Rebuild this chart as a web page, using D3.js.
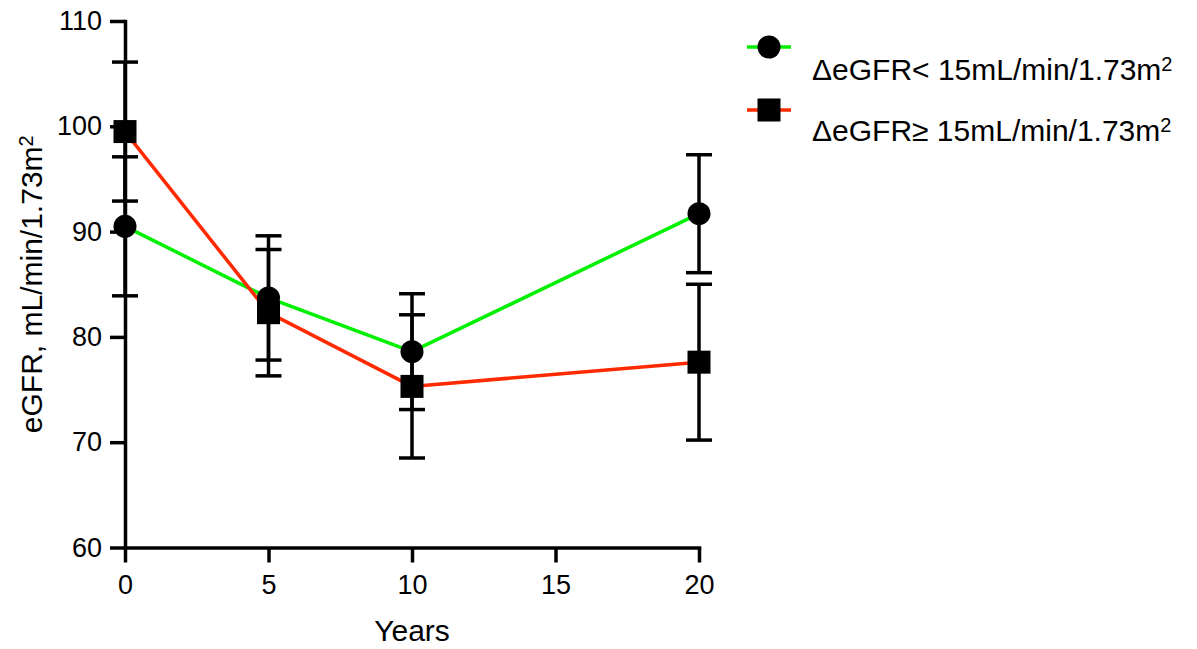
<!DOCTYPE html>
<html>
<head>
<meta charset="utf-8">
<script src="https://cdn.jsdelivr.net/npm/d3@7"></script>
<style>
  html, body { margin: 0; padding: 0; background: #fff; }
  svg { display: block; font-family: "Liberation Sans", Arial, sans-serif; }
</style>
</head>
<body>
<div id="chart"></div>
<script>
const width = 1197;
const height = 649;

// Data (mean and SD of eGFR)
const years = [0, 5, 10, 20];
const lowMean = [90.5, 83.7, 78.6, 91.7];
const lowSd = [6.6, 5.9, 5.5, 5.6];
const highMean = [99.5, 82.3, 75.3, 77.6];
const highSd = [6.6, 6.0, 6.8, 7.4];
const xTicks = [0, 5, 10, 15, 20];
const yTicks = [60, 70, 80, 90, 100, 110];
const legendLabels = ["\u0394eGFR< 15mL/min/1.73m", "\u0394eGFR\u2265 15mL/min/1.73m"];

const series = [
    { name: legendLabels[0], mean: lowMean, sd: lowSd, color: "#00f000", shape: "circle" },
    { name: legendLabels[1], mean: highMean, sd: highSd, color: "#ff2a00", shape: "square" }
];

const x = d3.scaleLinear().domain([0, 20]).range([125, 699]);
const y = d3.scaleLinear().domain([60, 110]).range([547.5, 21]);

const svg = d3.select("#chart").append("svg")
    .attr("width", width)
    .attr("height", height);

// axes
const yAxis = d3.axisLeft(y).tickValues(yTicks).tickSize(15).tickSizeOuter(0).tickPadding(8);
const xAxis = d3.axisBottom(x).tickValues(xTicks).tickSize(15).tickSizeOuter(0).tickPadding(12);

const gy = svg.append("g").attr("transform", `translate(${x(0)},0)`).call(yAxis);
const gx = svg.append("g").attr("transform", `translate(0,${y(60)})`).call(xAxis);

[gx, gy].forEach(g => {
    g.select(".domain").attr("stroke", "#000").attr("stroke-width", 3.5).attr("stroke-linecap", "square");
    g.selectAll(".tick line").attr("stroke", "#000").attr("stroke-width", 3.5);
    g.selectAll(".tick text").attr("fill", "#000").style("font-size", "27px")
        .style("font-family", "'Liberation Sans', Arial, sans-serif");
});

// axis titles
svg.append("text")
    .attr("x", x(10))
    .attr("y", 641)
    .attr("text-anchor", "middle")
    .style("font-size", "30px")
    .text("Years");

const yTitle = svg.append("text")
    .attr("transform", `translate(42,${(y(60) + y(110)) / 2}) rotate(-90)`)
    .attr("text-anchor", "middle")
    .style("font-size", "30px");
yTitle.append("tspan").text("eGFR, mL/min/1.73m");
yTitle.append("tspan").attr("dy", "-0.45em").style("font-size", "20px").text("2");

// connecting lines
const line = d3.line()
    .x((d, i) => x(years[i]))
    .y(d => y(d));

series.forEach(s => {
    svg.append("path")
        .datum(s.mean)
        .attr("fill", "none")
        .attr("stroke", s.color)
        .attr("stroke-width", 3.5)
        .attr("d", line);
});

// error bars
const capW = 13;
series.forEach(s => {
    const g = svg.append("g").attr("stroke", "#000").attr("stroke-width", 3.5);
    years.forEach((yr, i) => {
        const cx = x(yr);
        const top = y(s.mean[i] + s.sd[i]);
        const bot = y(s.mean[i] - s.sd[i]);
        g.append("line").attr("x1", cx).attr("x2", cx).attr("y1", top).attr("y2", bot);
        g.append("line").attr("x1", cx - capW).attr("x2", cx + capW).attr("y1", top).attr("y2", top);
        g.append("line").attr("x1", cx - capW).attr("x2", cx + capW).attr("y1", bot).attr("y2", bot);
    });
});

// markers
function drawMarker(g, shape, cx, cy) {
    if (shape === "circle") {
        g.append("circle").attr("cx", cx).attr("cy", cy).attr("r", 11.5).attr("fill", "#000");
    } else {
        g.append("rect").attr("x", cx - 11.5).attr("y", cy - 11.5)
            .attr("width", 23).attr("height", 23).attr("fill", "#000");
    }
}

series.forEach(s => {
    const g = svg.append("g");
    years.forEach((yr, i) => drawMarker(g, s.shape, x(yr), y(s.mean[i])));
});

// legend
const legendRows = [47, 110];
const legendText = [80, 141];
series.forEach((s, i) => {
    const g = svg.append("g");
    g.append("line")
        .attr("x1", 747).attr("x2", 791)
        .attr("y1", legendRows[i]).attr("y2", legendRows[i])
        .attr("stroke", s.color).attr("stroke-width", 3.5);
    drawMarker(g, s.shape, 769, legendRows[i]);
    const t = g.append("text")
        .attr("x", 812)
        .attr("y", legendText[i])
        .style("font-size", "30px");
    t.append("tspan").text(s.name);
    t.append("tspan").attr("dy", "-0.45em").style("font-size", "20px").text("2");
});
</script>
</body>
</html>
